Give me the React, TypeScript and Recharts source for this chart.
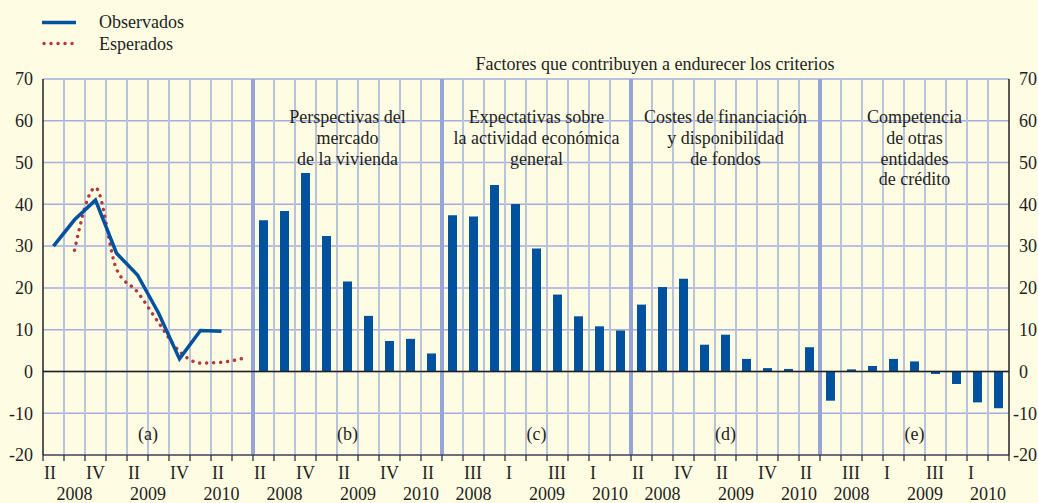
import React from 'react';
import { ComposedChart, Bar, Line, XAxis, YAxis, CartesianGrid, ReferenceLine } from 'recharts';

const FONT = '"Liberation Serif", "Times New Roman", serif';
const INK = '#231f20';
const BLUE = '#00519e';
const RED = '#b5393b';
const BG = '#fffce4';

// panel (a): observed vs expected, 2008 Q2 .. 2010 Q3
const observados = [30, 36.3, 41, 28.3, 23.1, 14, 3, 9.8, 9.6, null];
const esperados = [null, 29, 44, 24.5, 19, 11.7, 4.8, 2, 2.2, 3.1];

// panels (b)-(e): 2008 Q2 .. 2010 Q2
const vivienda = [36.2, 38.4, 47.5, 32.4, 21.5, 13.3, 7.3, 7.8, 4.3];
const actividad = [37.4, 37.1, 44.6, 40.1, 29.4, 18.4, 13.2, 10.8, 9.8];
const financiacion = [16, 20.2, 22.2, 6.4, 8.8, 3.0, 0.8, 0.6, 5.8];
const competencia = [-7, 0.5, 1.3, 3.0, 2.4, -0.6, -3.0, -7.4, -8.8];

const quarterLabelsA = ['II', '', 'IV', '', 'II', '', 'IV', '', 'II', ''];
const quarterLabelsEven = ['II', '', 'IV', '', 'II', '', 'IV', '', 'II'];
const quarterLabelsOdd = ['', 'III', '', 'I', '', 'III', '', 'I', ''];
const years = ['2008', '2009', '2010'];

const panelTitles = [
  [],
  ['Perspectivas del', 'mercado', 'de la vivienda'],
  ['Expectativas sobre', 'la actividad económica', 'general'],
  ['Costes de financiación', 'y disponibilidad', 'de fondos'],
  ['Competencia', 'de otras', 'entidades', 'de crédito'],
];
const panelTags = ['(a)', '(b)', '(c)', '(d)', '(e)'];
const yTicks = [-20, -10, 0, 10, 20, 30, 40, 50, 60, 70];

const barPanels = [vivienda, actividad, financiacion, competencia];
const panelStart = [0, 10, 19, 28, 37];
const panelSize = [10, 9, 9, 9, 9];
const TOTAL = 46;

// one row per quarter slot
const data: any[] = [];
observados.forEach((v, i) => data.push({ x: i + 0.5, obs: v, esp: esperados[i] }));
barPanels.forEach((arr) => arr.forEach((v) => data.push({ x: data.length + 0.5, bar: v })));

const slotLabels: string[] = [
  ...quarterLabelsA,
  ...quarterLabelsEven,
  ...quarterLabelsOdd,
  ...quarterLabelsEven,
  ...quarterLabelsOdd,
];

const yearAt = new Map<number, string>();
panelStart.forEach((o, p) => {
  const pos = p === 0 ? [1.5, 5, 8.5] : [1.5, 5, 8];
  pos.forEach((d, k) => yearAt.set(o + d, years[k]));
});

const boundaries = Array.from({ length: TOTAL + 1 }, (_, i) => i);
const xTicks = Array.from(new Set([...boundaries, ...yearAt.keys()])).sort((a, b) => a - b);
const separators = panelStart.slice(1);
const innerLines = boundaries.filter((i) => i > 0 && i < TOTAL && !separators.includes(i));

const txt = { fontFamily: FONT, fontSize: 18, fill: INK };

const XTick = ({ x, y, payload }: any) => {
  const v = payload.value;
  const isInt = Number.isInteger(v);
  const yr = yearAt.get(v);
  return (
    <g>
      {isInt && <line x1={x} x2={x} y1={y} y2={y + 6} stroke={INK} strokeWidth={1.2} />}
      {isInt && slotLabels[v] ? (
        <text x={x + 1} y={y + 24} textAnchor="start" {...txt}>{slotLabels[v]}</text>
      ) : null}
      {yr && <text x={x} y={y + 45} textAnchor="middle" {...txt}>{yr}</text>}
    </g>
  );
};

const LeftTick = ({ x, y, payload }: any) => (
  <text x={x} y={y} dy="0.35em" textAnchor="end" {...txt}>{payload.value}</text>
);

const RightTick = ({ x, y, payload }: any) => (
  <text x={x + (payload.value < 0 ? 4 : 10)} y={y} dy="0.35em" textAnchor="start" {...txt}>
    {payload.value}
  </text>
);

// titles hang from an invisible line through the middle of each panel
const PanelText = ({ viewBox, lines, tag }: any) => {
  if (!viewBox) return null;
  const cx = viewBox.x;
  return (
    <g>
      {lines.map((l: string, k: number) => (
        <text key={k} x={cx} y={viewBox.y + 44 + k * 20.8} textAnchor="middle" {...txt}>{l}</text>
      ))}
      <text x={cx} y={viewBox.y + viewBox.height - 15} textAnchor="middle" {...txt}>{tag}</text>
    </g>
  );
};

export default function App() {
  return (
    <div style={{ position: 'absolute', left: 0, top: 0, width: 1038, height: 503, background: BG }}>
      <ComposedChart
        width={1038}
        height={503}
        data={data}
        margin={{ top: 79, right: 0, left: 0, bottom: 0 }}
      >
        <CartesianGrid vertical={false} stroke="#a3aedf" strokeWidth={1.5} />
        {innerLines.map((i) => (
          <ReferenceLine key={'g' + i} x={i} stroke="#bac3dc" strokeWidth={2} />
        ))}
        {separators.map((i) => (
          <ReferenceLine key={'s' + i} x={i} stroke="#97a4d8" strokeWidth={4} />
        ))}
        {panelStart.map((o, p) => (
          <ReferenceLine
            key={'p' + p}
            x={o + panelSize[p] / 2}
            strokeOpacity={0}
            label={<PanelText lines={panelTitles[p]} tag={panelTags[p]} />}
          />
        ))}
        <XAxis
          dataKey="x"
          type="number"
          domain={[0, TOTAL]}
          ticks={xTicks}
          interval={0}
          tick={<XTick />}
          tickLine={false}
          tickSize={0}
          tickMargin={0}
          height={48}
          axisLine={{ stroke: INK, strokeWidth: 1.2 }}
        />
        <YAxis
          domain={[-20, 70]}
          ticks={yTicks}
          width={43}
          tick={<LeftTick />}
          tickLine={false}
          tickSize={0}
          tickMargin={10}
          axisLine={{ stroke: INK, strokeWidth: 1.5 }}
        />
        <YAxis
          yAxisId="r"
          orientation="right"
          domain={[-20, 70]}
          ticks={yTicks}
          width={29}
          tick={<RightTick />}
          tickLine={false}
          tickSize={0}
          tickMargin={0}
          axisLine={{ stroke: INK, strokeWidth: 1.5 }}
        />
        <Bar yAxisId="r" dataKey="bar" fill={BLUE} barSize={9} isAnimationActive={false} />
        <Line
          dataKey="esp"
          type="monotone"
          stroke={RED}
          strokeWidth={3.4}
          strokeDasharray="0.1 6.9"
          strokeLinecap="round"
          dot={false}
          connectNulls={false}
          isAnimationActive={false}
        />
        <Line
          dataKey="obs"
          type="linear"
          stroke={BLUE}
          strokeWidth={3.5}
          dot={false}
          isAnimationActive={false}
        />
        <ReferenceLine y={0} stroke={INK} strokeWidth={1.5} />
      </ComposedChart>
      <svg
        width={1038}
        height={503}
        style={{ position: 'absolute', left: 0, top: 0, pointerEvents: 'none' }}
      >
        <line x1={42} x2={76} y1={22.5} y2={22.5} stroke={BLUE} strokeWidth={3.5} />
        <line
          x1={44}
          x2={77}
          y1={43.5}
          y2={43.5}
          stroke={RED}
          strokeWidth={3.4}
          strokeDasharray="0.1 6.9"
          strokeLinecap="round"
        />
        <text x={99} y={28} {...txt}>Observados</text>
        <text x={99} y={50} {...txt}>Esperados</text>
        <text x={655} y={70} textAnchor="middle" {...txt}>
          Factores que contribuyen a endurecer los criterios
        </text>
      </svg>
    </div>
  );
}
